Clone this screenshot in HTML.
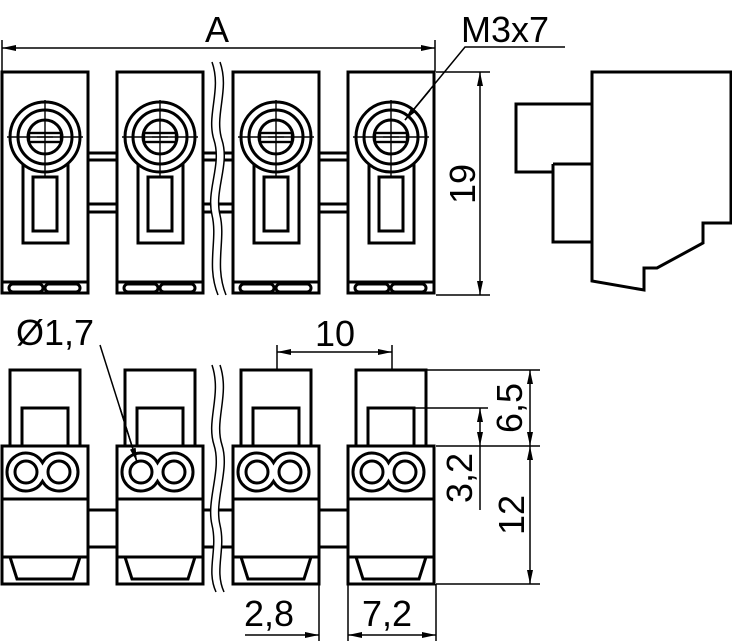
<!DOCTYPE html>
<html><head><meta charset="utf-8"><style>
html,body{margin:0;padding:0;background:#fff;width:732px;height:641px;overflow:hidden}
svg{display:block;background:#fff}
text{font-family:"Liberation Sans",sans-serif;font-size:36px;fill:#000}
</style></head><body>
<svg width="732" height="641" viewBox="0 0 732 641" xmlns="http://www.w3.org/2000/svg">
<defs>
<marker id="ar" viewBox="0 0 14 6" refX="14" refY="3" markerWidth="14" markerHeight="6" markerUnits="userSpaceOnUse" orient="auto-start-reverse"><path d="M0,0L14,3L0,6z" fill="#000"/></marker>
<g id="tb" fill="none" stroke="#000" stroke-width="3">
<rect x="2" y="72" width="86" height="221" fill="#fff"/>
<line x1="2" y1="282" x2="88" y2="282"/>
<rect x="9" y="284" width="34" height="8" rx="4"/>
<rect x="45" y="284" width="35" height="8" rx="4"/>
<circle cx="45" cy="137" r="35"/>
<circle cx="45" cy="137" r="27"/>
<circle cx="45" cy="137" r="17"/>
<rect x="29" y="133" width="32" height="9" stroke-width="2.4"/>
<line x1="37" y1="137" x2="53" y2="137" stroke-width="1.3"/>
<path d="M23,164L23,243L68,243L68,164"/>
<rect x="33" y="177" width="24" height="54"/>
<line x1="7" y1="137" x2="83" y2="137" stroke-width="1.4"/>
<line x1="45" y1="100" x2="45" y2="178" stroke-width="1.4"/>
</g>
<g id="bb" fill="none" stroke="#000" stroke-width="3">
<rect x="10" y="370" width="70" height="76" fill="#fff"/>
<path d="M22,446L22,408L68,408L68,446"/>
<rect x="2" y="446" width="86" height="138" fill="#fff"/>
<line x1="2" y1="499" x2="88" y2="499"/>
<line x1="2" y1="557" x2="88" y2="557"/>
<path d="M10,557L17,579L73,579L80,557"/>
<path d="M42.5,462.6A19,19 0 1,0 42.5,481.4A19,19 0 1,0 42.5,462.6z"/>
<circle cx="26" cy="472" r="11"/>
<circle cx="59" cy="472" r="11"/>
</g>
</defs>
<use href="#tb"/><use href="#tb" x="115"/><use href="#tb" x="231"/><use href="#tb" x="346"/>
<use href="#bb"/><use href="#bb" x="115"/><use href="#bb" x="231"/><use href="#bb" x="346"/>
<g stroke="#000" stroke-width="3" fill="none">
<path d="M88,153H117M88,160H117M88,204H117M88,212H117M204,153H233M204,160H233M204,204H233M204,212H233M319,153H348M319,160H348M319,204H348M319,212H348"/>
<path d="M88,510H117M88,547H117M204,510H233M204,547H233M319,510H348M319,547H348"/>
<path d="M592,72H731V223H703V243L657,268H644V290L592,281Z"/>
<path d="M592,104H516V172H553M553,164H592M553,164V242H592"/>
</g>
<g stroke="#000" stroke-width="1.5" fill="#fff">
<path d="M212,62C222,90 206,115 214,140C222,165 206,190 212,215C218,240 206,265 218,295L226,295C214,265 226,240 220,215C214,190 230,165 222,140C214,115 230,90 220,62Z" stroke="none"/>
<path d="M212,62C222,90 206,115 214,140C222,165 206,190 212,215C218,240 206,265 218,295M220,62C230,90 214,115 222,140C230,165 214,190 220,215C226,240 214,265 226,295" fill="none"/>
<path d="M212,365C222,395 206,420 214,445C222,470 206,500 212,525C218,550 206,570 216,592L224,592C214,570 226,550 220,525C214,500 230,470 222,445C214,420 230,395 220,365Z" stroke="none"/>
<path d="M212,365C222,395 206,420 214,445C222,470 206,500 212,525C218,550 206,570 216,592M220,365C230,395 214,420 222,445C230,470 214,500 220,525C226,550 214,570 224,592" fill="none"/>
</g>
<g stroke="#000" stroke-width="1.5" fill="none">
<path d="M2,40V72M435,40V72"/>
<line x1="2" y1="48" x2="435" y2="48" marker-start="url(#ar)" marker-end="url(#ar)"/>
<path d="M565,47H465L405,120"/>
<line x1="430" y1="90" x2="405" y2="120" marker-end="url(#ar)"/>
<path d="M436,72H490M436,295H490"/>
<line x1="480" y1="72" x2="480" y2="295" marker-start="url(#ar)" marker-end="url(#ar)"/>
<path d="M277,345V370M392,345V370"/>
<line x1="277" y1="352" x2="392" y2="352" marker-start="url(#ar)" marker-end="url(#ar)"/>
<path d="M427,370H540M436,446H540M415,408H488M436,584H540"/>
<line x1="530" y1="370" x2="530" y2="446" marker-start="url(#ar)" marker-end="url(#ar)"/>
<line x1="530" y1="446" x2="530" y2="584" marker-start="url(#ar)" marker-end="url(#ar)"/>
<line x1="480" y1="408" x2="480" y2="446" marker-start="url(#ar)" marker-end="url(#ar)"/>
<line x1="480" y1="446" x2="480" y2="510"/>
<path d="M319,584V641M348,584V641M436,584V641"/>
<line x1="245" y1="635" x2="319" y2="635" marker-end="url(#ar)"/>
<line x1="348" y1="635" x2="436" y2="635" marker-start="url(#ar)" marker-end="url(#ar)"/>
<path d="M100,345L137,462"/>
<line x1="120" y1="408" x2="137" y2="462" marker-end="url(#ar)"/>
</g>
<text x="205" y="42">A</text>
<text x="461" y="42">M3x7</text>
<text transform="translate(475,184) rotate(-90)" text-anchor="middle">19</text>
<text x="315" y="346">10</text>
<text x="16" y="345">Ø1,7</text>
<text transform="translate(522,408) rotate(-90)" text-anchor="middle">6,5</text>
<text transform="translate(472,478) rotate(-90)" text-anchor="middle">3,2</text>
<text transform="translate(524,515) rotate(-90)" text-anchor="middle">12</text>
<text x="244" y="626">2,8</text>
<text x="362" y="626">7,2</text>
</svg>
</body></html>
